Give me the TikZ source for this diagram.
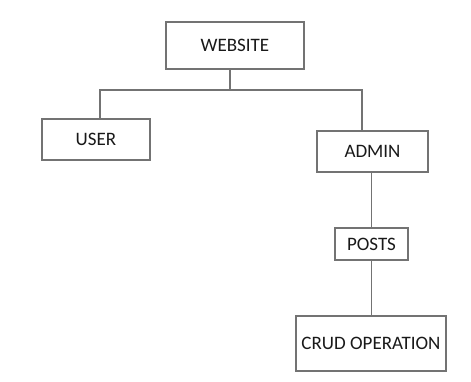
\documentclass[tikz,border=0pt]{standalone}
\usepackage{fontspec}
\setmainfont{Carlito}
\usetikzlibrary{positioning}

\begin{document}
\begin{tikzpicture}[x=1pt, y=-1pt,% styles used in image code
 line/.style = {draw=black!55, line width=1.4pt},
  box/.style = {draw=black!55, line width=1.3pt, fill=white,
                inner sep=0pt, outer sep=0pt, text=black!90,
                font=\fontsize{19}{22}\selectfont}
                    ]
	\useasboundingbox (0,0) rectangle (471,381);

	% boxes of the tree
	\node[box, minimum width=138pt, minimum height=47pt] (web)   at (235,45.5) {WEBSITE};
	\node[box, minimum width=108pt, minimum height=41pt] (user)  at (96,139.5) {USER};
	\node[box, minimum width=111pt, minimum height=41pt] (admin) at (372.5,151.5) {ADMIN};
	\node[box, minimum width=73pt,  minimum height=32pt] (posts) at (371.5,244) {POSTS};
	\node[box, minimum width=150pt, minimum height=55pt] (crud)  at (371,343.5) {CRUD OPERATION};

	% branch points
	\coordinate (split) at (230,90);
	\coordinate (lft)   at (100,90);
	\coordinate (rgt)   at (362,90);

	\draw[line] (web.south -| split) -- (split);
	\draw[line] (user.north -| lft) -- (lft) -- (rgt) -- (admin.north -| rgt);
	\draw[line] (admin.south -| posts.north) -- (posts.north);
	\draw[line] (posts.south) -- (posts.south |- crud.north);
\end{tikzpicture}
\end{document}
